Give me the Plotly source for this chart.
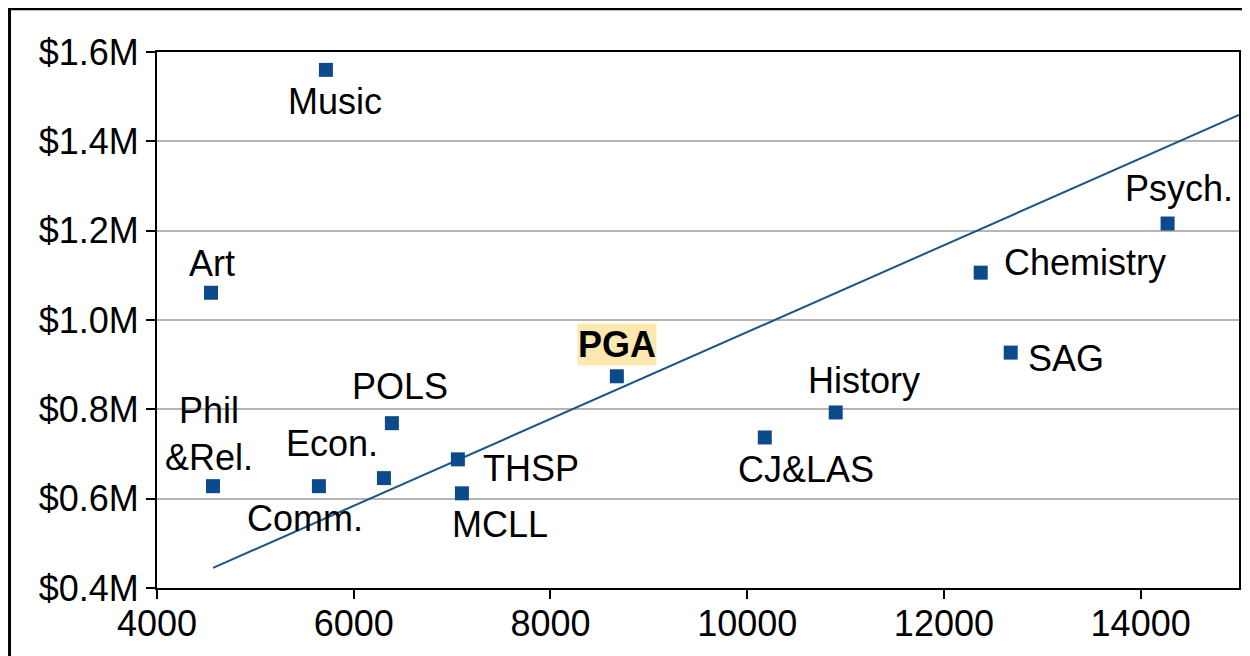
import plotly.graph_objects as go

# Data
departments = ["Music", "Art", "Phil<br>&Rel.", "Comm.", "Econ.", "POLS", "THSP", "MCLL",
               "PGA", "CJ&LAS", "History", "Chemistry", "SAG", "Psych."]
students = [5717, 4549, 4569, 5646, 6307, 6388, 7059, 7100,
            8675, 10179, 10900, 12374, 12679, 14274]
funding_m = [1.560, 1.061, 0.628, 0.628, 0.646, 0.769, 0.688, 0.612,
             0.874, 0.737, 0.793, 1.106, 0.927, 1.216]

trend_x = [4570, 15000]
trend_y = [0.445, 1.459]

y_tickvals = [0.4, 0.6, 0.8, 1.0, 1.2, 1.4, 1.6]
y_ticktext = ["$0.4M", "$0.6M", "$0.8M", "$1.0M", "$1.2M", "$1.4M", "$1.6M"]
x_tickvals = [4000, 6000, 8000, 10000, 12000, 14000]
x_ticktext = ["4000", "6000", "8000", "10000", "12000", "14000"]

# label offsets in pixels (dx right, dy up)
label_dx = [9, 1, -4, -14, -52, 8, 73, 38, 0, 41, 28, 104, 55, 11]
label_dy = [-32, 29, 52, -32, 35, 37, -9, -31, 32, -32, 32, 10, -6, 35]

FONT = "Liberation Sans, Arial, sans-serif"
BLUE = "#0b4a8b"
FS = 36

fig = go.Figure()
fig.add_trace(go.Scatter(x=trend_x, y=trend_y, mode="lines",
                         line=dict(color="#1d5585", width=2), hoverinfo="skip",
                         showlegend=False))
fig.add_trace(go.Scatter(x=students, y=funding_m, mode="markers",
                         marker=dict(symbol="square", size=14, color=BLUE),
                         text=departments, showlegend=False))

for name, xv, yv, dx, dy in zip(departments, students, funding_m, label_dx, label_dy):
    is_pga = name == "PGA"
    fig.add_annotation(
        x=xv, y=yv, xref="x", yref="y", showarrow=False,
        text=f"<b>{name}</b>" if is_pga else name,
        xshift=dx, yshift=dy,
        font=dict(family=FONT, size=FS, color="black"),
        bgcolor="#fde9b0" if is_pga else "rgba(0,0,0,0)",
        borderpad=0,
    )

# outer frame (figure border)
fig.add_shape(type="rect", xref="paper", yref="paper",
              x0=-0.1363, x1=1.2, y0=-0.3, y1=1.0805,
              line=dict(color="black", width=3), layer="above")

fig.update_layout(
    width=1250, height=656,
    margin=dict(l=149, r=19, t=44, b=76),
    paper_bgcolor="white", plot_bgcolor="white",
    font=dict(family=FONT, size=FS, color="black"),
    xaxis=dict(range=[4000, 15000], tickvals=x_tickvals, ticktext=x_ticktext,
               showgrid=False,
               showline=True, linecolor="black", linewidth=2, mirror=True,
               ticks="outside", ticklen=9, tickwidth=2, tickcolor="black",
               zeroline=False, tickfont=dict(size=FS), ticklabelstandoff=-6),
    yaxis=dict(range=[0.4, 1.6], tickvals=y_tickvals, ticktext=y_ticktext,
               showgrid=True, gridcolor="#b5b5b5", gridwidth=2,
               showline=True, linecolor="black", linewidth=2, mirror=True,
               ticks="outside", ticklen=9, tickwidth=2, tickcolor="black",
               zeroline=False, tickfont=dict(size=FS)),
)

fig.write_html("out.html")
